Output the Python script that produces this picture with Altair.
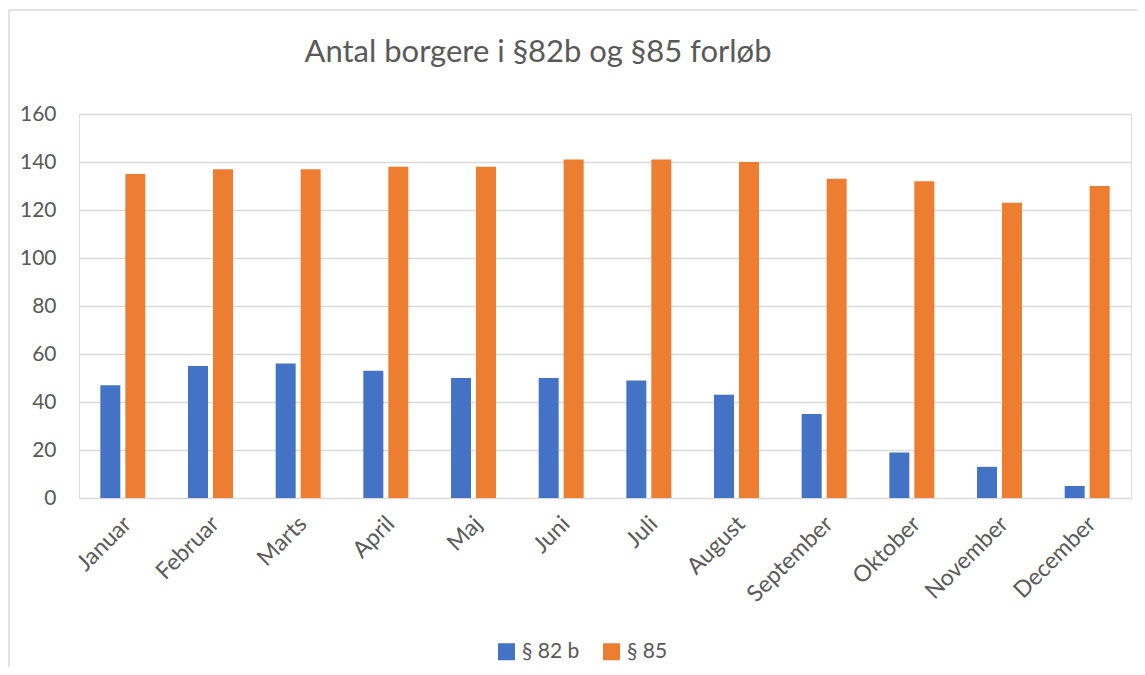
import altair as alt
import pandas as pd

months = ["Januar", "Februar", "Marts", "April", "Maj", "Juni", "Juli",
          "August", "September", "Oktober", "November", "December"]
series = ["§ 82 b", "§ 85"]
values_82b = [47, 55, 56, 53, 50, 50, 49, 43, 35, 19, 13, 5]
values_85 = [135, 137, 137, 138, 138, 141, 141, 140, 133, 132, 123, 130]
y_ticks = [0, 20, 40, 60, 80, 100, 120, 140, 160]

rows = []
for m, a, b in zip(months, values_82b, values_85):
    rows.append({"Måned": m, "Serie": series[0], "Antal": a})
    rows.append({"Måned": m, "Serie": series[1], "Antal": b})
df = pd.DataFrame(rows)

FONT = "Lato"
TXT = "#595959"
W, H = 1052, 384

bars = alt.Chart(df).mark_bar().encode(
    x=alt.X("Måned:N", sort=months, title=None,
            scale=alt.Scale(paddingInner=0.487, paddingOuter=0.2435),
            axis=alt.Axis(labelAngle=-45, labelAlign="right", labelBaseline="middle",
                          labelPadding=22, labelOffset=5, ticks=False, domain=False, grid=False,
                          labelFontSize=23, labelColor=TXT, labelFont=FONT)),
    xOffset=alt.XOffset("Serie:N", sort=series,
                        scale=alt.Scale(paddingInner=0.2, paddingOuter=0)),
    y=alt.Y("Antal:Q", title=None,
            scale=alt.Scale(domain=[0, 160], nice=False),
            axis=alt.Axis(values=y_ticks, ticks=False, domain=False,
                          gridColor="#d9d9d9", gridWidth=1.3,
                          labelFontSize=21, labelColor=TXT, labelFont=FONT,
                          labelPadding=23)),
    color=alt.Color("Serie:N", sort=series,
                    scale=alt.Scale(domain=series, range=["#4472C4", "#ED7D31"]),
                    legend=alt.Legend(title=None, orient="none", direction="horizontal",
                                      legendX=417, legendY=527, padding=0,
                                      symbolType="square", symbolSize=289,
                                      symbolStrokeWidth=0, labelOffset=5,
                                      columnPadding=21,
                                      labelFontSize=21, labelColor=TXT, labelFont=FONT)),
)

frame = alt.Chart(alt.Data(values=[{"k": 1}])).mark_rule(color="#d9d9d9", strokeWidth=1.5).encode(
    x=alt.value(-70), y=alt.value(-104), y2=alt.value(H + 200)
)
frame_top = alt.Chart(alt.Data(values=[{"k": 1}])).mark_rule(color="#d9d9d9", strokeWidth=1.5).encode(
    x=alt.value(-70), x2=alt.value(W + 100), y=alt.value(-104)
)

chart = alt.layer(frame, frame_top, bars).properties(
    width=W, height=H,
    title=alt.TitleParams("Antal borgere i §82b og §85 forløb", fontSize=31, font=FONT,
                          color=TXT, fontWeight="normal", anchor="middle", dx=-67,
                          baseline="alphabetic", offset=-84),
    autosize=alt.AutoSizeParams(type="none"),
    padding={"left": 71, "top": 106, "right": 6, "bottom": 169},
).configure_view(stroke=None).configure(background="white")

chart.save("out.html", embed_options={"renderer": "svg", "actions": False})
